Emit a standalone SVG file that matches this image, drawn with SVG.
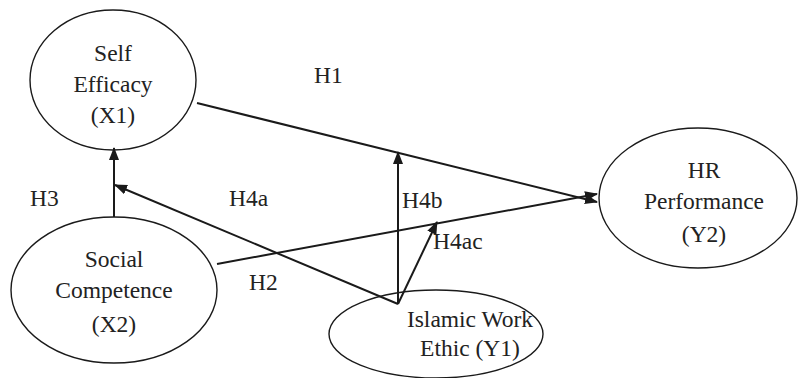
<svg xmlns="http://www.w3.org/2000/svg" width="798" height="378" viewBox="0 0 798 378" font-family="Liberation Serif, Times New Roman, DejaVu Serif, serif" font-size="23.5">
<style>
.node ellipse{fill:#fff;stroke:#1a1a1a;stroke-width:1.4}
text{fill:#222}
.nt{text-anchor:middle}
.edge{stroke:#1a1a1a;stroke-width:2;fill:none}
</style>
<defs>
<marker id="ah" markerUnits="userSpaceOnUse" markerWidth="13" markerHeight="10" refX="12" refY="5" orient="auto">
<path d="M0,0 L13,5 L0,10 z" fill="#1a1a1a"/>
</marker>
</defs>
<rect width="798" height="378" fill="#fff"/>
<g id="n-self" class="node">
<ellipse cx="113" cy="80" rx="83" ry="70"/>
<text class="nt" x="113" y="61">Self</text>
<text class="nt" x="113" y="92">Efficacy</text>
<text class="nt" x="113" y="123">(X1)</text>
</g>
<g id="n-social" class="node">
<ellipse cx="114" cy="290" rx="103" ry="73"/>
<text class="nt" x="114" y="267">Social</text>
<text class="nt" x="114" y="298">Competence</text>
<text class="nt" x="114" y="332">(X2)</text>
</g>
<g id="n-hr" class="node">
<ellipse cx="698" cy="198" rx="99" ry="70"/>
<text class="nt" x="704" y="178">HR</text>
<text class="nt" x="704" y="209">Performance</text>
<text class="nt" x="704" y="242">(Y2)</text>
</g>
<g id="n-iwe" class="node">
<ellipse cx="436" cy="334" rx="107" ry="44"/>
<text class="nt" x="470" y="327">Islamic Work</text>
<text class="nt" x="470" y="356">Ethic (Y1)</text>
</g>
<g id="edges">
<line class="edge" x1="114" y1="217" x2="114" y2="148" marker-end="url(#ah)"/>
<line class="edge" x1="398" y1="304" x2="115" y2="185" marker-end="url(#ah)"/>
<line class="edge" x1="398" y1="304" x2="398" y2="152" marker-end="url(#ah)"/>
<line class="edge" x1="398" y1="304" x2="437" y2="222" marker-end="url(#ah)"/>
<line class="edge" x1="197" y1="103" x2="597" y2="202" marker-end="url(#ah)"/>
<line class="edge" x1="217" y1="264" x2="597" y2="194" marker-end="url(#ah)"/>
</g>
<g id="labels">
<text x="314" y="83">H1</text>
<text x="30" y="206">H3</text>
<text x="229" y="206">H4a</text>
<text x="249" y="290">H2</text>
<text x="402" y="208">H4b</text>
<text x="433" y="249">H4ac</text>
</g>
</svg>
